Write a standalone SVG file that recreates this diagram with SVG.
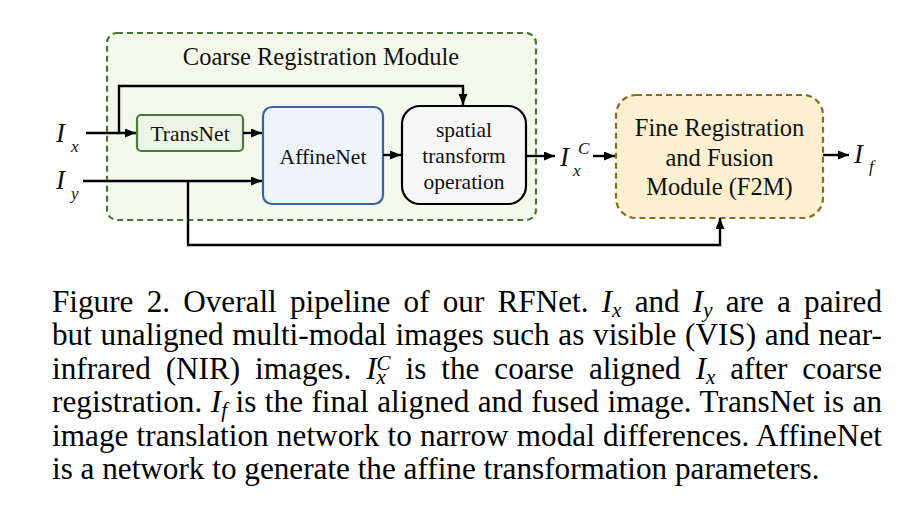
<svg xmlns="http://www.w3.org/2000/svg" width="923" height="522" viewBox="0 0 923 522">
<defs>
<marker id="arr" markerUnits="userSpaceOnUse" markerWidth="12" markerHeight="10" refX="11" refY="4.5" orient="auto">
<path d="M0,0 L11,4.5 L0,9 z" fill="#000"/>
</marker>
<style>
.t{font-family:"Liberation Serif","Times New Roman",serif;fill:#111;}
.m{font-family:"Liberation Serif","Times New Roman",serif;font-style:italic;fill:#111;}
.c{stroke:#000;stroke-width:2.4;fill:none;marker-end:url(#arr);}
.cap{font-family:"Liberation Serif","Times New Roman",serif;font-size:31.2px;fill:#000;}
.i{font-style:italic;}
.s{font-style:italic;font-size:21px;}
</style>
</defs>
<rect width="923" height="522" fill="#fff"/>
<g id="coarse">
<rect x="107" y="33" width="429" height="187" rx="10" fill="#f4f9ec" stroke="#4a7433" stroke-width="2.2" stroke-dasharray="6 4"/>
<text class="t" x="321" y="65" font-size="24.5" text-anchor="middle">Coarse Registration Module</text>
</g>
<g id="transnet">
<rect x="137" y="115" width="106" height="36" rx="4" fill="#edf5e8" stroke="#4f7a3a" stroke-width="2.2"/>
<text class="t" x="190" y="141" font-size="21.5" text-anchor="middle">TransNet</text>
</g>
<g id="affinenet">
<rect x="263" y="107" width="120" height="97" rx="9" fill="#eef5f9" stroke="#3b62a6" stroke-width="2.2"/>
<text class="t" x="323" y="164" font-size="21.5" text-anchor="middle">AffineNet</text>
</g>
<g id="spatial">
<rect x="402" y="106" width="124" height="98" rx="18" fill="#f7f7f7" stroke="#000" stroke-width="2.2"/>
<text class="t" font-size="21.5" text-anchor="middle"><tspan x="464" y="137">spatial</tspan><tspan x="464" y="163">transform</tspan><tspan x="464" y="189">operation</tspan></text>
</g>
<g id="f2m">
<rect x="616" y="95" width="207" height="123" rx="20" fill="#fdf0d0" stroke="#8a6c1c" stroke-width="2.2" stroke-dasharray="6 4"/>
<text class="t" font-size="24.5" text-anchor="middle"><tspan x="719.5" y="136">Fine Registration</tspan><tspan x="719.5" y="166">and Fusion</tspan><tspan x="719.5" y="195">Module (F2M)</tspan></text>
</g>
<g id="labels">
<text class="m" x="56" y="142" font-size="27">I</text><text class="m" x="71" y="152" font-size="17">x</text>
<text class="m" x="56" y="189" font-size="27">I</text><text class="m" x="71" y="199" font-size="17">y</text>
<text class="m" x="560" y="166" font-size="27">I</text><text class="m" x="573" y="176" font-size="17">x</text><text class="m" x="578" y="154" font-size="17">C</text>
<text class="m" x="854" y="163" font-size="27">I</text><text class="m" x="869" y="172" font-size="17">f</text>
</g>
<g id="connectors">
<line class="c" x1="86" y1="133" x2="136" y2="133"/>
<path class="c" d="M119,133 V86 H463 V105"/>
<line class="c" x1="243" y1="133" x2="262" y2="133"/>
<line class="c" x1="83" y1="181" x2="262" y2="181"/>
<path class="c" d="M188,181 V245 H720 V218"/>
<line class="c" x1="383" y1="155" x2="401" y2="155"/>
<line class="c" x1="526" y1="156" x2="555" y2="156"/>
<line class="c" x1="593" y1="156" x2="615" y2="156"/>
<line class="c" x1="823" y1="155" x2="849" y2="155"/>
</g>
<g id="caption">
<text class="cap" x="52" y="311.5" word-spacing="5.4" textLength="830" lengthAdjust="spacing">Figure 2. Overall pipeline of our RFNet. <tspan class="i">I</tspan><tspan class="s" dy="5">x</tspan><tspan dy="-5"> and </tspan><tspan class="i">I</tspan><tspan class="s" dy="5">y</tspan><tspan dy="-5"> are a paired</tspan></text>
<text class="cap" x="52" y="345" word-spacing="0.85" textLength="830" lengthAdjust="spacing">but unaligned multi-modal images such as visible (VIS) and near-</text>
<text class="cap" x="52" y="378.5" word-spacing="7.1" textLength="830" lengthAdjust="spacing">infrared (NIR) images. <tspan class="i">I</tspan><tspan class="s" dy="5">x</tspan><tspan class="s" dx="-9.3" dy="-14">C</tspan><tspan dy="9"> is the coarse aligned </tspan><tspan class="i">I</tspan><tspan class="s" dy="5">x</tspan><tspan dy="-5"> after coarse</tspan></text>
<text class="cap" x="52" y="412" word-spacing="0.6" textLength="830" lengthAdjust="spacing">registration. <tspan class="i">I</tspan><tspan class="s" dy="5">f</tspan><tspan dy="-5"> is the final aligned and fused image. TransNet is an</tspan></text>
<text class="cap" x="52" y="445.5" word-spacing="0.3" textLength="830" lengthAdjust="spacing">image translation network to narrow modal differences. AffineNet</text>
<text class="cap" x="52" y="479">is a network to generate the affine transformation parameters.</text>
</g>
</svg>
